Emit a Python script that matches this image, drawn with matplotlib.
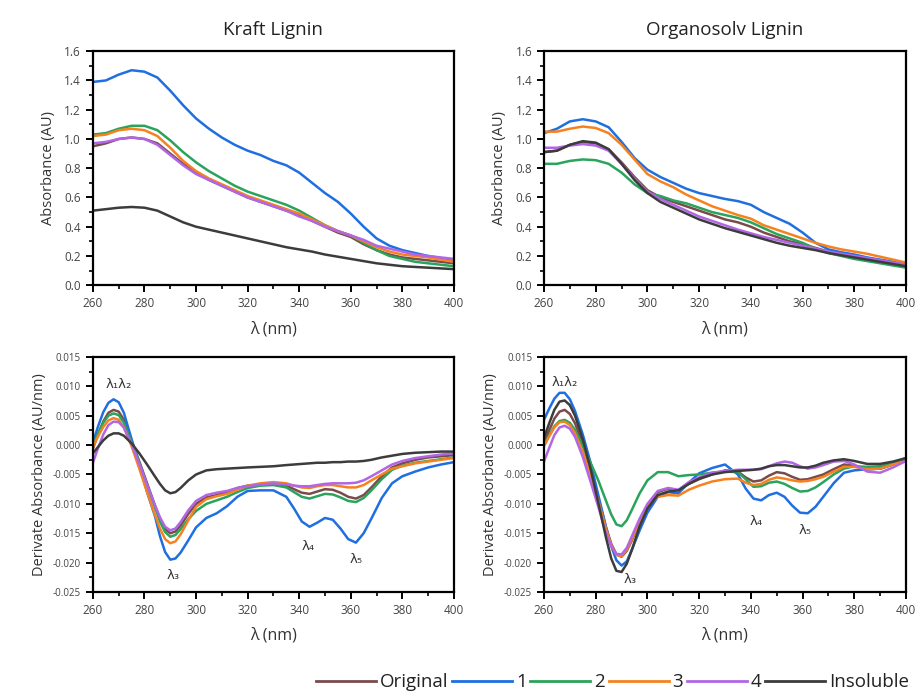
import matplotlib
matplotlib.use("Agg")
import matplotlib.pyplot as plt
from matplotlib.ticker import MultipleLocator, FuncFormatter
from matplotlib.lines import Line2D

plt.rcParams['font.family'] = ['Open Sans', 'DejaVu Sans']

# wavelength grids (nm)
wl = [260, 265, 270, 275, 280, 285, 290, 295, 300, 305, 310, 315, 320, 325, 330,
      335, 340, 345, 350, 355, 360, 365, 370, 375, 380, 385, 390, 395, 400]
wl_d = [260, 262, 264, 266, 268, 270, 272, 275, 278, 281, 284, 286, 288, 290, 292,
        294, 297, 300, 304, 308, 312, 316, 320, 325, 330, 335, 338, 341, 344, 347,
        350, 353, 356, 359, 362, 365, 368, 372, 376, 380, 385, 390, 395, 400]

labels = ["Original", "1", "2", "3", "4", "Insoluble"]
colors = ["#7b4b4b", "#1f6fe0", "#2aa35c", "#f5821f", "#b266e6", "#3c3c3c"]

# Kraft lignin absorbance
kraft_abs = {
    "Original": [0.95, 0.97, 1.00, 1.01, 1.00, 0.97, 0.90, 0.83, 0.77, 0.72, 0.68, 0.64, 0.60, 0.57, 0.54,
                 0.51, 0.48, 0.44, 0.40, 0.36, 0.33, 0.28, 0.24, 0.21, 0.19, 0.18, 0.17, 0.16, 0.15],
    "1": [1.39, 1.40, 1.44, 1.47, 1.46, 1.42, 1.33, 1.23, 1.14, 1.07, 1.01, 0.96, 0.92, 0.89, 0.85,
          0.82, 0.77, 0.70, 0.63, 0.57, 0.49, 0.40, 0.32, 0.27, 0.24, 0.22, 0.20, 0.185, 0.17],
    "2": [1.03, 1.04, 1.07, 1.09, 1.09, 1.06, 0.99, 0.91, 0.84, 0.78, 0.73, 0.68, 0.64, 0.61, 0.58,
          0.55, 0.51, 0.46, 0.41, 0.37, 0.34, 0.29, 0.24, 0.20, 0.18, 0.16, 0.15, 0.14, 0.13],
    "3": [1.02, 1.03, 1.06, 1.07, 1.06, 1.02, 0.94, 0.85, 0.78, 0.73, 0.69, 0.65, 0.61, 0.58, 0.55,
          0.52, 0.49, 0.45, 0.41, 0.37, 0.34, 0.30, 0.26, 0.23, 0.21, 0.20, 0.19, 0.175, 0.16],
    "4": [0.97, 0.98, 1.00, 1.01, 1.00, 0.96, 0.89, 0.82, 0.76, 0.72, 0.68, 0.64, 0.60, 0.57, 0.54,
          0.51, 0.47, 0.44, 0.40, 0.37, 0.34, 0.31, 0.27, 0.25, 0.23, 0.21, 0.20, 0.19, 0.18],
    "Insoluble": [0.51, 0.52, 0.53, 0.535, 0.53, 0.51, 0.47, 0.43, 0.40, 0.38, 0.36, 0.34, 0.32, 0.30, 0.28,
                  0.26, 0.245, 0.23, 0.21, 0.195, 0.18, 0.165, 0.15, 0.14, 0.13, 0.125, 0.12, 0.115, 0.11],
}

# Organosolv lignin absorbance
org_abs = {
    "Original": [0.91, 0.92, 0.96, 0.98, 0.97, 0.93, 0.84, 0.74, 0.65, 0.60, 0.57, 0.54, 0.51, 0.48, 0.45,
                 0.43, 0.40, 0.36, 0.33, 0.30, 0.28, 0.255, 0.23, 0.21, 0.195, 0.18, 0.165, 0.15, 0.135],
    "1": [1.04, 1.07, 1.12, 1.135, 1.12, 1.08, 0.98, 0.87, 0.79, 0.74, 0.70, 0.66, 0.63, 0.61, 0.59,
          0.575, 0.55, 0.50, 0.46, 0.42, 0.36, 0.29, 0.245, 0.225, 0.21, 0.19, 0.175, 0.16, 0.145],
    "2": [0.83, 0.83, 0.85, 0.86, 0.855, 0.83, 0.77, 0.69, 0.63, 0.61, 0.58, 0.56, 0.53, 0.50, 0.48,
          0.46, 0.43, 0.39, 0.35, 0.32, 0.29, 0.25, 0.22, 0.20, 0.18, 0.165, 0.15, 0.135, 0.12],
    "3": [1.05, 1.05, 1.07, 1.085, 1.075, 1.04, 0.96, 0.86, 0.76, 0.71, 0.67, 0.62, 0.58, 0.54, 0.51,
          0.48, 0.455, 0.41, 0.38, 0.35, 0.32, 0.29, 0.265, 0.245, 0.23, 0.215, 0.195, 0.175, 0.155],
    "4": [0.94, 0.94, 0.955, 0.965, 0.955, 0.92, 0.83, 0.73, 0.64, 0.59, 0.55, 0.51, 0.47, 0.44, 0.41,
          0.38, 0.355, 0.33, 0.31, 0.29, 0.27, 0.25, 0.23, 0.215, 0.20, 0.185, 0.17, 0.155, 0.14],
    "Insoluble": [0.91, 0.92, 0.96, 0.985, 0.975, 0.93, 0.83, 0.72, 0.63, 0.57, 0.53, 0.49, 0.45, 0.42, 0.39,
                  0.365, 0.34, 0.315, 0.29, 0.27, 0.255, 0.24, 0.22, 0.205, 0.19, 0.175, 0.16, 0.145, 0.13],
}

# Kraft lignin first derivative
kraft_der = {
    "Original": [-0.0006, 0.0018, 0.0040, 0.0055, 0.0060, 0.0057, 0.0043, 0.0008, -0.0028, -0.0065, -0.0102,
                 -0.0125, -0.0143, -0.0150, -0.0147, -0.0137, -0.0117, -0.0100, -0.0089, -0.0085, -0.0080,
                 -0.0073, -0.0069, -0.0067, -0.0066, -0.0069, -0.0075, -0.0081, -0.0083, -0.0079, -0.0075,
                 -0.0076, -0.0081, -0.0088, -0.0091, -0.0085, -0.0072, -0.0053, -0.0038, -0.0031, -0.0025,
                 -0.0021, -0.0019, -0.0017],
    "1": [0.0004, 0.0032, 0.0056, 0.0072, 0.0078, 0.0073, 0.0055, 0.0010, -0.0035, -0.0080, -0.0120,
          -0.0155, -0.0182, -0.0195, -0.0193, -0.0183, -0.0162, -0.0140, -0.0124, -0.0116, -0.0104,
          -0.0088, -0.0078, -0.0077, -0.0077, -0.0088, -0.0108, -0.0130, -0.0139, -0.0132, -0.0124,
          -0.0127, -0.0142, -0.0160, -0.0166, -0.0150, -0.0125, -0.0090, -0.0065, -0.0053, -0.0045,
          -0.0038, -0.0033, -0.0029],
    "2": [-0.0001, 0.0020, 0.0038, 0.0050, 0.0054, 0.0051, 0.0038, 0.0004, -0.0030, -0.0068, -0.0105,
          -0.0130, -0.0148, -0.0156, -0.0153, -0.0143, -0.0126, -0.0112, -0.0100, -0.0094, -0.0088,
          -0.0080, -0.0073, -0.0069, -0.0068, -0.0072, -0.0080, -0.0088, -0.0091, -0.0087, -0.0083,
          -0.0084, -0.0089, -0.0095, -0.0097, -0.0090, -0.0077, -0.0058, -0.0042, -0.0035, -0.0030,
          -0.0027, -0.0024, -0.0021],
    "3": [-0.0003, 0.0015, 0.0031, 0.0042, 0.0046, 0.0043, 0.0030, -0.0002, -0.0040, -0.0080, -0.0118,
          -0.0142, -0.0160, -0.0167, -0.0164, -0.0152, -0.0128, -0.0105, -0.0092, -0.0087, -0.0083,
          -0.0076, -0.0069, -0.0065, -0.0063, -0.0065, -0.0069, -0.0072, -0.0073, -0.0070, -0.0068,
          -0.0068, -0.0070, -0.0072, -0.0072, -0.0068, -0.0060, -0.0050, -0.0040, -0.0036, -0.0031,
          -0.0028, -0.0025, -0.0022],
    "4": [-0.0030, -0.0005, 0.0018, 0.0034, 0.0040, 0.0039, 0.0030, 0.0002, -0.0032, -0.0068, -0.0102,
          -0.0123, -0.0139, -0.0145, -0.0142, -0.0131, -0.0111, -0.0095, -0.0085, -0.0081, -0.0078,
          -0.0073, -0.0070, -0.0067, -0.0065, -0.0067, -0.0069, -0.0070, -0.0070, -0.0068, -0.0066,
          -0.0065, -0.0065, -0.0065, -0.0064, -0.0060, -0.0053, -0.0043, -0.0033, -0.0027, -0.0022,
          -0.0019, -0.0016, -0.0014],
    "Insoluble": [-0.0014, -0.0003, 0.0008, 0.0016, 0.0020, 0.0020, 0.0016, 0.0003, -0.0014, -0.0033, -0.0053,
                  -0.0066, -0.0077, -0.0082, -0.0080, -0.0073, -0.0060, -0.0050, -0.0043, -0.0041, -0.0040,
                  -0.0039, -0.0038, -0.0037, -0.0036, -0.0034, -0.0033, -0.0032, -0.0031, -0.0030, -0.0030,
                  -0.0029, -0.0029, -0.0028, -0.0028, -0.0027, -0.0025, -0.0021, -0.0018, -0.0015, -0.0013,
                  -0.0012, -0.0011, -0.0011],
}

# Organosolv lignin first derivative
org_der = {
    "Original": [0.0002, 0.0025, 0.0045, 0.0057, 0.0060, 0.0053, 0.0037, 0.0002, -0.0042, -0.0090, -0.0140,
                 -0.0168, -0.0186, -0.0190, -0.0180, -0.0162, -0.0130, -0.0103, -0.0080, -0.0074, -0.0077,
                 -0.0066, -0.0058, -0.0050, -0.0043, -0.0045, -0.0055, -0.0062, -0.0060, -0.0052, -0.0046,
                 -0.0048, -0.0054, -0.0059, -0.0058, -0.0054, -0.0050, -0.0041, -0.0033, -0.0035, -0.0041,
                 -0.0040, -0.0033, -0.0026],
    "1": [0.0043, 0.0062, 0.0079, 0.0089, 0.0089, 0.0078, 0.0058, 0.0018, -0.0030, -0.0085, -0.0140,
          -0.0172, -0.0196, -0.0205, -0.0198, -0.0178, -0.0145, -0.0115, -0.0088, -0.0080, -0.0082,
          -0.0064, -0.0048, -0.0039, -0.0033, -0.0050, -0.0074, -0.0091, -0.0094, -0.0085, -0.0081,
          -0.0088, -0.0103, -0.0115, -0.0116, -0.0105, -0.0088, -0.0065, -0.0047, -0.0043, -0.0041,
          -0.0040, -0.0033, -0.0026],
    "2": [0.0000, 0.0016, 0.0032, 0.0041, 0.0043, 0.0038, 0.0026, -0.0002, -0.0030, -0.0060, -0.0095,
          -0.0118, -0.0135, -0.0138, -0.0128, -0.0110, -0.0082, -0.0060, -0.0046, -0.0046, -0.0053,
          -0.0051, -0.0050, -0.0047, -0.0045, -0.0046, -0.0058, -0.0071, -0.0070, -0.0064, -0.0062,
          -0.0066, -0.0073, -0.0079, -0.0078, -0.0072, -0.0063, -0.0050, -0.0040, -0.0036, -0.0037,
          -0.0036, -0.0030, -0.0022],
    "3": [-0.0002, 0.0015, 0.0030, 0.0039, 0.0040, 0.0034, 0.0020, -0.0012, -0.0050, -0.0095, -0.0143,
          -0.0170, -0.0187, -0.0189, -0.0178, -0.0160, -0.0130, -0.0105, -0.0088, -0.0085, -0.0086,
          -0.0076, -0.0069, -0.0062, -0.0058, -0.0057, -0.0064, -0.0068, -0.0066, -0.0059, -0.0055,
          -0.0057, -0.0060, -0.0062, -0.0061, -0.0058, -0.0054, -0.0045, -0.0037, -0.0037, -0.0041,
          -0.0040, -0.0033, -0.0027],
    "4": [-0.0028, -0.0005, 0.0017, 0.0030, 0.0033, 0.0028, 0.0014, -0.0020, -0.0062, -0.0105, -0.0150,
          -0.0172, -0.0185, -0.0186, -0.0175, -0.0155, -0.0125, -0.0100, -0.0078, -0.0073, -0.0076,
          -0.0063, -0.0055, -0.0047, -0.0044, -0.0042, -0.0042, -0.0042, -0.0041, -0.0036, -0.0031,
          -0.0028, -0.0030, -0.0036, -0.0040, -0.0038, -0.0034, -0.0028, -0.0027, -0.0033, -0.0045,
          -0.0047, -0.0038, -0.0027],
    "Insoluble": [0.0012, 0.0037, 0.0060, 0.0074, 0.0076, 0.0068, 0.0050, 0.0010, -0.0040, -0.0098, -0.0158,
                  -0.0193, -0.0214, -0.0216, -0.0202, -0.0178, -0.0138, -0.0108, -0.0085, -0.0079, -0.0077,
                  -0.0066, -0.0057, -0.0050, -0.0046, -0.0044, -0.0043, -0.0042, -0.0040, -0.0036, -0.0034,
                  -0.0034, -0.0036, -0.0038, -0.0038, -0.0035, -0.0030, -0.0026, -0.0024, -0.0027, -0.0032,
                  -0.0032, -0.0028, -0.0022],
}

# peak labels: (text, x, y)
kraft_marks = [("λ₁λ₂", 270, 0.0103), ("λ₃", 291, -0.0222), ("λ₄", 343.5, -0.0172), ("λ₅", 362, -0.0195)]
org_marks = [("λ₁λ₂", 268, 0.0107), ("λ₃", 293.5, -0.0228), ("λ₄", 342, -0.0130), ("λ₅", 361, -0.0146)]

fig = plt.figure(figsize=(9.2, 6.94), dpi=100)
ax_tl = fig.add_axes([0.101, 0.589, 0.3924, 0.3372])
ax_tr = fig.add_axes([0.5913, 0.589, 0.3935, 0.3372])
ax_bl = fig.add_axes([0.101, 0.147, 0.3924, 0.3386])
ax_br = fig.add_axes([0.5913, 0.147, 0.3935, 0.3386])

tick_col = "#444444"


def der_fmt(v, pos):
    v = round(v, 4)
    if v == 0:
        v = 0.0
    return "%.3f" % v


def style(ax, top):
    ax.set_xlim(260, 400)
    ax.xaxis.set_major_locator(MultipleLocator(20))
    ax.xaxis.set_minor_locator(MultipleLocator(10))
    if top:
        ax.set_ylim(0, 1.6)
        ax.yaxis.set_major_locator(MultipleLocator(0.2))
        ax.yaxis.set_minor_locator(MultipleLocator(0.1))
        ax.yaxis.set_major_formatter(FuncFormatter(lambda v, p: "%.1f" % (round(v, 2) + 0.0)))
        ax.set_ylabel("Absorbance (AU)", fontsize=10.5, color="#333333", labelpad=6)
    else:
        ax.set_ylim(-0.025, 0.015)
        ax.yaxis.set_major_locator(MultipleLocator(0.005))
        ax.yaxis.set_minor_locator(MultipleLocator(0.0025))
        ax.yaxis.set_major_formatter(FuncFormatter(der_fmt))
        ax.set_ylabel("Derivate Absorbance (AU/nm)", fontsize=10.5, color="#333333", labelpad=4)
    ax.set_xlabel("λ (nm)", fontsize=11.5, color="#333333", labelpad=8)
    for s in ax.spines.values():
        s.set_linewidth(1.6)
    ax.tick_params(which='major', direction='out', length=5, width=1.4, labelsize=8.5 if top else 7,
                   labelcolor=tick_col)
    ax.tick_params(which='minor', direction='out', length=3, width=1.2)


for ax, data, xs in [(ax_tl, kraft_abs, wl), (ax_tr, org_abs, wl),
                     (ax_bl, kraft_der, wl_d), (ax_br, org_der, wl_d)]:
    for name, col in zip(labels, colors):
        ax.plot(xs, data[name], color=col, lw=1.8, solid_joinstyle='round')

style(ax_tl, True)
style(ax_tr, True)
style(ax_bl, False)
style(ax_br, False)
ax_bl.tick_params(axis='x', labelsize=8.5)
ax_br.tick_params(axis='x', labelsize=8.5)

ax_tl.set_title("Kraft Lignin", fontsize=13.5, color="#222222", pad=12)
ax_tr.set_title("Organosolv Lignin", fontsize=13.5, color="#222222", pad=12)

for ax, marks in [(ax_bl, kraft_marks), (ax_br, org_marks)]:
    for txt, x, y in marks:
        ax.text(x, y, txt, ha='center', va='center', fontsize=9.5, color="#333333",
                family=['DejaVu Sans'])

handles = [Line2D([], [], color=c, lw=2) for c in colors]
fig.legend(handles, labels, loc='lower right', bbox_to_anchor=(1.0, -0.012), ncol=6,
           frameon=False, fontsize=13.5, handlelength=3.2, handletextpad=0.2,
           columnspacing=0.2, borderaxespad=0.2, labelcolor="#222222")

fig.savefig("out.png", dpi=100)
